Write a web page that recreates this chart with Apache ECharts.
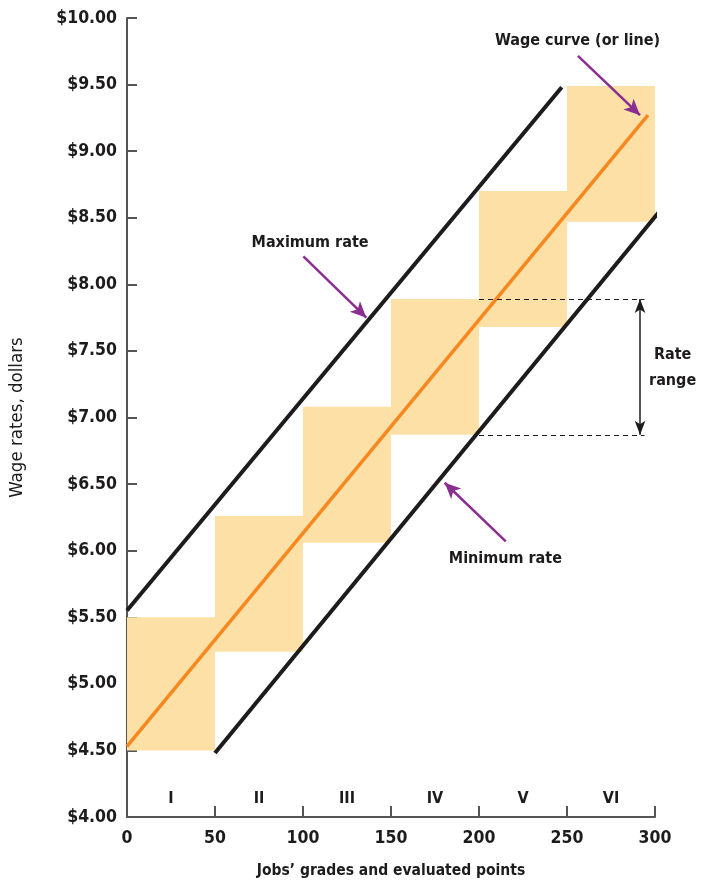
<!DOCTYPE html>
<html>
<head>
<meta charset="utf-8">
<script src="https://cdn.jsdelivr.net/npm/echarts@6/dist/echarts.min.js"></script>
<style>
  html, body { margin: 0; padding: 0; background: #fff; }
  #chart { width: 701px; height: 884px; }
</style>
</head>
<body>
<div id="chart"></div>
<script>
// job grades and their pay boxes
const grades = ['I', 'II', 'III', 'IV', 'V', 'VI']
const gradeStart = [0, 50, 100, 150, 200, 250]
const gradeEnd = [50, 100, 150, 200, 250, 300]
const boxLow = [4.50, 5.24, 6.06, 6.87, 7.68, 8.47]
const boxHigh = [5.50, 6.26, 7.08, 7.89, 8.70, 9.49]

// the three straight lines
const wageLine = [[0, 4.53], [296, 9.27]]
const maxLine = [[0, 5.55], [247, 9.48]]
const minLine = [[50, 4.48], [302, 8.54]]

// rate range (grade IV)
const rangeTop = 7.89
const rangeBottom = 6.87

const font = '"DejaVu Sans Condensed", "Liberation Sans Narrow", sans-serif'
const ink = '#1e1b1c'
const purple = '#8a2e8f'

let myChart = echarts.init(document.getElementById('chart'))

const boxAreas = grades.map((g, i) => [
  { xAxis: gradeStart[i], yAxis: boxLow[i] },
  { xAxis: gradeEnd[i], yAxis: boxHigh[i] }
])

const arrow = (from, to) => [
  { coord: from, symbol: 'none' },
  { coord: to, symbol: 'arrow', symbolSize: [11, 16] }
]

const textLabel = (x, y, text) => ({
  value: [x, y],
  label: { show: true, formatter: text, position: 'inside', color: ink,
    fontFamily: font, fontSize: 16, fontWeight: 'bold', lineHeight: 26 }
})

myChart.setOption({
  animation: false,
  grid: { left: 127, right: 46, top: 18, bottom: 66 },
  xAxis: {
    type: 'value', min: 0, max: 300, interval: 50,
    name: 'Jobs\u2019 grades and evaluated points',
    nameLocation: 'middle', nameGap: 46,
    nameTextStyle: { color: ink, fontFamily: font, fontSize: 15.5, fontWeight: 'bold' },
    axisLine: { show: true, lineStyle: { color: '#555', width: 2 } },
    axisTick: { show: true, inside: true, length: 11, lineStyle: { color: '#555', width: 2 } },
    axisLabel: { color: ink, fontFamily: font, fontSize: 17.5, fontWeight: 'bold', margin: 12 },
    splitLine: { show: false }
  },
  yAxis: {
    type: 'value', min: 4, max: 10, interval: 0.5,
    name: 'Wage rates, dollars',
    nameLocation: 'middle', nameGap: 100, nameRotate: 90,
    nameTextStyle: { color: ink, fontFamily: font, fontSize: 18.5 },
    axisLine: { show: true, lineStyle: { color: '#555', width: 2 } },
    axisTick: { show: true, inside: true, length: 10, lineStyle: { color: '#555', width: 2 } },
    axisLabel: { color: ink, fontFamily: font, fontSize: 17.5, fontWeight: 'bold', margin: 10,
      formatter: v => '$' + v.toFixed(2) },
    splitLine: { show: false }
  },
  series: [
    {
      // pay boxes
      type: 'line', data: [], silent: true,
      markArea: {
        silent: true,
        itemStyle: { color: '#fde0a6' },
        data: boxAreas
      }
    },
    {
      type: 'line', data: maxLine, symbol: 'none', clip: false,
      lineStyle: { color: ink, width: 4 }
    },
    {
      type: 'line', data: minLine, symbol: 'none', clip: false,
      lineStyle: { color: ink, width: 4 }
    },
    {
      type: 'line', data: wageLine, symbol: 'none',
      lineStyle: { color: '#f7871f', width: 3.5 }
    },
    {
      // dashed rate range guides and double arrow
      type: 'line', data: [], silent: true,
      markLine: {
        silent: true, animation: false,
        label: { show: false },
        data: [
          [{ coord: [200, rangeTop], symbol: 'none', lineStyle: { type: [5, 4], width: 1.2, color: ink } },
           { coord: [294, rangeTop], symbol: 'none' }],
          [{ coord: [200, rangeBottom], symbol: 'none', lineStyle: { type: [5, 4], width: 1.2, color: ink } },
           { coord: [294, rangeBottom], symbol: 'none' }],
          [{ coord: [291.5, rangeTop], symbol: 'arrow', symbolSize: [8, 14], lineStyle: { type: 'solid', width: 1.5, color: ink } },
           { coord: [291.5, rangeBottom], symbol: 'arrow', symbolSize: [8, 14] }]
        ]
      }
    },
    {
      // purple pointer arrows
      type: 'line', data: [], silent: true,
      markLine: {
        silent: true, animation: false,
        label: { show: false },
        lineStyle: { color: purple, width: 2.5, type: 'solid' },
        itemStyle: { color: purple },
        data: [
          arrow([256.2, 9.715], [291.5, 9.27]),
          arrow([100.2, 8.21], [136.0, 7.75]),
          arrow([215.2, 6.07], [180.5, 6.51])
        ]
      }
    },
    {
      // text labels
      type: 'scatter', symbolSize: 0, silent: true, clip: false,
      itemStyle: { opacity: 1 },
      data: [
        textLabel(256, 9.83, 'Wage curve (or line)'),
        textLabel(104, 8.31, 'Maximum rate'),
        textLabel(215, 5.94, 'Minimum rate'),
        textLabel(310, 7.37, 'Rate\nrange')
      ].concat(grades.map((g, i) => textLabel((gradeStart[i] + gradeEnd[i]) / 2, 4.135, g)))
    }
  ]
})
window.onresize = function () {
  myChart.resize()
}
</script>
</body>
</html>
